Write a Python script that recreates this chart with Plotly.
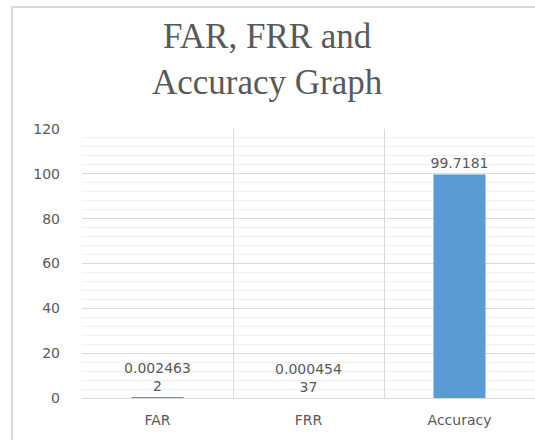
import plotly.graph_objects as go

categories = ["FAR", "FRR", "Accuracy"]
values = [0.0024632, 0.00045437, 99.7181]
y_tick_vals = [0, 20, 40, 60, 80, 100, 120]
title_text = "FAR, FRR and<br>Accuracy Graph"


def wrap_label(v, n=8):
    s = str(v)
    return "<br>".join(s[i:i + n] for i in range(0, len(s), n))


labels = [wrap_label(v) for v in values]

W, H = 535, 440
L, R, T, B = 82, 0, 129, 42
pw, ph = W - L - R, H - T - B

grey_text = "#595959"
tick_font = dict(family="DejaVu Sans", size=14, color=grey_text)

fig = go.Figure(
    go.Bar(
        x=categories,
        y=values,
        text=labels,
        textposition="outside",
        constraintext="none",
        textfont=tick_font,
        marker=dict(color="#5b9bd5", line=dict(width=0)),
        width=0.345,
        cliponaxis=False,
    )
)

# outer chart-area border (light grey), like the spreadsheet chart frame
bx0 = (12 - L) / pw
by1 = (H - B - 7) / ph
fig.add_shape(
    type="rect", xref="paper", yref="paper",
    x0=bx0, x1=1.2, y0=-0.5, y1=by1,
    line=dict(color="#d9d9d9", width=2), fillcolor="rgba(0,0,0,0)",
    layer="below",
)

# two-line title, centered on the page
cx = (W / 2 - L) / pw
fig.add_annotation(
    text=title_text, xref="paper", yref="paper",
    x=cx, y=(H - B - 60) / ph, xanchor="center", yanchor="middle",
    showarrow=False,
    font=dict(family="Liberation Serif", size=35, color=grey_text),
)

fig.update_layout(
    width=W, height=H,
    margin=dict(l=L, r=R, t=T, b=B),
    paper_bgcolor="white",
    plot_bgcolor="white",
    showlegend=False,
    xaxis=dict(
        type="category",
        tickson="boundaries",
        showgrid=True, gridcolor="#d9d9d9", gridwidth=1,
        showline=True, linecolor="#d9d9d9", linewidth=1,
        ticks="", tickfont=tick_font,
        ticklabelstandoff=9,
        fixedrange=True,
    ),
    yaxis=dict(
        range=[0, 120],
        tickvals=y_tick_vals,
        showgrid=True, gridcolor="#d9d9d9", gridwidth=1,
        minor=dict(dtick=4, showgrid=True, gridcolor="#f0f0f0", gridwidth=1),
        zeroline=False,
        showline=False,
        ticks="", tickfont=tick_font,
        ticklabelstandoff=21,
        fixedrange=True,
    ),
)

fig.write_html(
    "out.html",
    config={"responsive": False, "displayModeBar": False},
    post_script="document.body.style.margin='0px';document.body.style.overflow='hidden';",
)
